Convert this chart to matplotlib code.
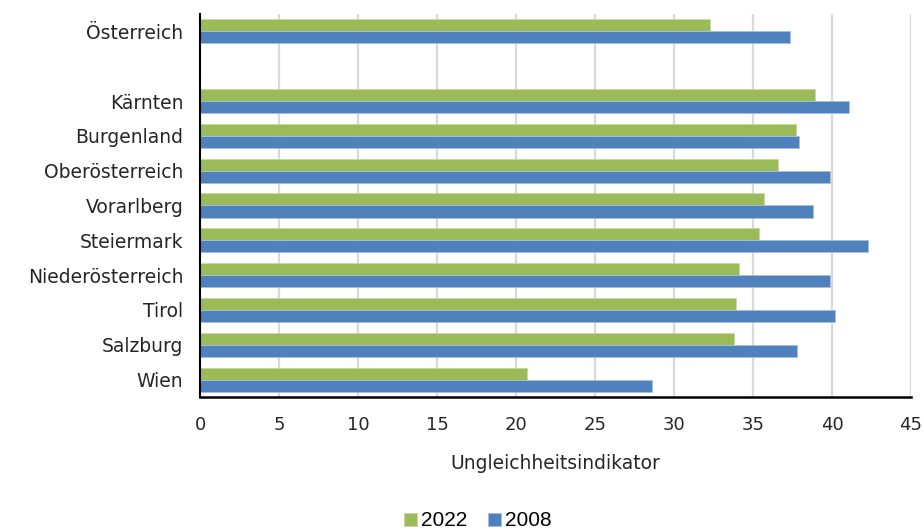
import numpy as np
import matplotlib
matplotlib.use('Agg')
import matplotlib.pyplot as plt

# data, top to bottom as in the chart
regions = ['Österreich', 'Kärnten', 'Burgenland', 'Oberösterreich', 'Vorarlberg',
           'Steiermark', 'Niederösterreich', 'Tirol', 'Salzburg', 'Wien']
v2022 = [32.3, 38.9, 37.7, 36.6, 35.7, 35.4, 34.1, 33.9, 33.8, 20.7]
v2008 = [37.35, 41.1, 37.9, 39.9, 38.8, 42.3, 39.9, 40.2, 37.8, 28.6]
xticks = [0, 5, 10, 15, 20, 25, 30, 35, 40, 45]

green = '#9BBB59'
blue = '#4F81BD'

plt.rcParams['font.family'] = ['DejaVu Sans']

fig = plt.figure(figsize=(9.24, 5.32), dpi=100)
ax = fig.add_axes([200/924, 1-397/532, 711/924, 383/532])

# positions: Wien at bottom, empty slot between Kärnten and Österreich
n = len(regions)
pos = np.arange(n)[::-1].astype(float)
pos[0] += 1  # gap above the federal states
h = 0.345

ax.barh(pos + h/2, v2022, height=h, color=green, edgecolor='#c5d9a0', linewidth=0.6, label='2022', zorder=3)
ax.barh(pos - h/2, v2008, height=h, color=blue, edgecolor='#a8c0e0', linewidth=0.6, label='2008', zorder=3)

ax.set_xlim(0, 45)
ax.set_ylim(-0.5, n + 0.5)
ax.set_xticks(xticks)
ax.set_yticks(pos)
ax.set_yticklabels(regions, fontsize=13.5, color='#262626')
ax.tick_params(axis='y', length=0, pad=12)
ax.tick_params(axis='x', length=0, labelsize=13, labelcolor='#262626', pad=14)
for x in xticks[1:]:
    ax.axvline(x, color='#d9d9d9', linewidth=1.6, zorder=1)

for s in ['top', 'right']:
    ax.spines[s].set_visible(False)
ax.spines['left'].set_linewidth(1.5)
ax.spines['bottom'].set_linewidth(1.8)
ax.spines['left'].set_zorder(4)

ax.set_xlabel('Ungleichheitsindikator', fontsize=13.5, color='#262626', labelpad=14)

fig.legend(loc='center', bbox_to_anchor=(478/924, 1-521/532), ncol=2, frameon=False,
           handlelength=0.6, handleheight=0.6, handletextpad=0.2,
           columnspacing=1.0, prop={'family': 'Liberation Sans', 'size': 15})

fig.savefig('out.png', dpi=100)
